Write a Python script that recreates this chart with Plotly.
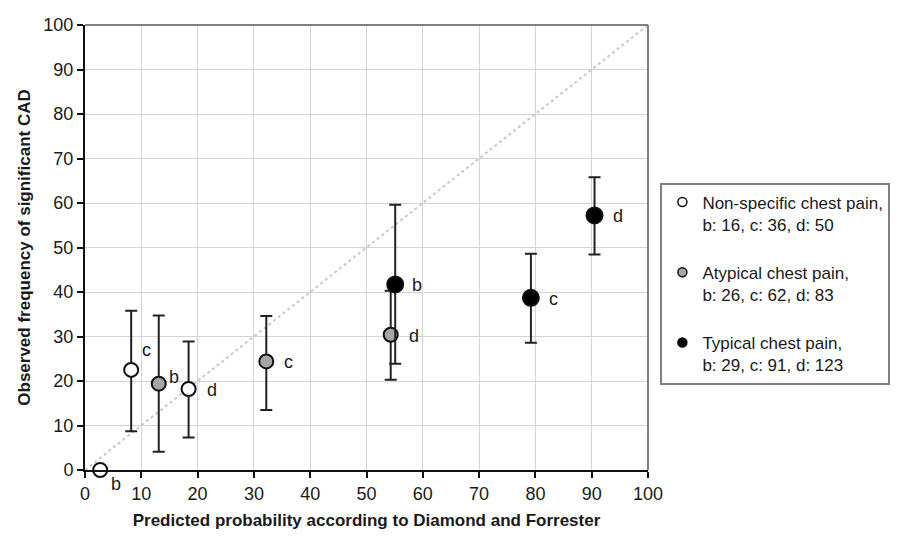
import plotly.graph_objects as go

# ---- data ----
groups = ["Non-specific chest pain,<br>b: 16, c: 36, d: 50",
          "Atypical chest pain,<br>b: 26, c: 62, d: 83",
          "Typical chest pain,<br>b: 29, c: 91, d: 123"]
point_labels = ["b", "c", "d"]

ns_x = [2.7, 8.2, 18.4]
ns_y = [0.0, 22.5, 18.2]
ns_hi = [0.0, 35.8, 28.9]
ns_lo = [0.0, 8.7, 7.3]

at_x = [13.1, 32.2, 54.3]
at_y = [19.4, 24.4, 30.4]
at_hi = [34.7, 34.6, 40.3]
at_lo = [4.1, 13.5, 20.3]

ty_x = [55.1, 79.2, 90.5]
ty_y = [41.7, 38.7, 57.2]
ty_hi = [59.6, 48.6, 65.8]
ty_lo = [23.9, 28.6, 48.4]

diag = [0, 100]
ticks = list(range(0, 101, 10))

# ---- style ----
fills = ["#ffffff", "#a6a6a6", "#000000"]
sizes = [14, 14, 16]
label_shift = {
    0: [(16, -14), (15, 20), (23, -1)],
    1: [(15, 7), (22, -1), (23, -1)],
    2: [(22, -1), (23, -1), (23, -1)],
}
FONT = "Liberation Sans, Arial, sans-serif"
TXT = "#1a1a1a"

fig = go.Figure()

fig.add_trace(go.Scatter(x=diag, y=diag, mode="lines",
                         line=dict(color="#c8c8c8", width=2, dash="dot"),
                         showlegend=False, hoverinfo="skip"))

series = [(ns_x, ns_y, ns_hi, ns_lo), (at_x, at_y, at_hi, at_lo), (ty_x, ty_y, ty_hi, ty_lo)]
for gi, (xs, ys, hi, lo) in enumerate(series):
    plus = [h - y for h, y in zip(hi, ys)]
    minus = [y - l for y, l in zip(ys, lo)]
    fig.add_trace(go.Scatter(
        x=xs, y=ys, mode="markers", showlegend=False, cliponaxis=False,
        marker=dict(size=sizes[gi], color=fills[gi], line=dict(color="#111111", width=2)),
        error_y=dict(type="data", array=plus, arrayminus=minus, visible=True,
                     color="#222222", thickness=2, width=6),
    ))
    # legend proxy
    fig.add_trace(go.Scatter(
        x=[None], y=[None], mode="markers", name=groups[gi],
        legendgroup=f"g{gi}",
        marker=dict(size=9, color=fills[gi], line=dict(color="#111111", width=1.5)),
    ))
    for pi, (x, y) in enumerate(zip(xs, ys)):
        dx, dy = label_shift[gi][pi]
        fig.add_annotation(x=x, y=y, text=point_labels[pi], showarrow=False,
                           xshift=dx, yshift=dy,
                           font=dict(family=FONT, size=18, color=TXT))

# plot frame top/right in gray
fig.add_shape(type="line", xref="paper", yref="paper", x0=0, x1=1, y0=1, y1=1,
              line=dict(color="#808080", width=2))
fig.add_shape(type="line", xref="paper", yref="paper", x0=1, x1=1, y0=0, y1=1,
              line=dict(color="#808080", width=2))

axis_common = dict(range=[0, 100], tickvals=ticks, showgrid=True, gridcolor="#d4d4d4",
                   gridwidth=1, showline=True, linecolor="#111111", linewidth=2,
                   ticks="outside", ticklen=6, tickwidth=1.5, tickcolor="#111111",
                   tickfont=dict(family=FONT, size=18, color=TXT), zeroline=False)

fig.update_xaxes(**axis_common,
                 title=dict(text="<b>Predicted probability according to Diamond and Forrester</b>",
                            font=dict(family=FONT, size=17, color=TXT), standoff=12))
fig.update_yaxes(**axis_common,
                 title=dict(text="<b>Observed frequency of significant CAD</b>",
                            font=dict(family=FONT, size=17, color=TXT), standoff=8))

fig.update_layout(
    width=901, height=540,
    margin=dict(l=77, r=261, t=17, b=78, autoexpand=False),
    paper_bgcolor="white", plot_bgcolor="white",
    font=dict(family=FONT, color=TXT),
    legend=dict(x=1.022, y=0.646, xanchor="left", yanchor="top",
                bordercolor="#808080", borderwidth=2, bgcolor="white",
                font=dict(family=FONT, size=17, color=TXT),
                traceorder="grouped", tracegroupgap=23, valign="top",
                itemwidth=30),
)

fig.write_html("out.html")
